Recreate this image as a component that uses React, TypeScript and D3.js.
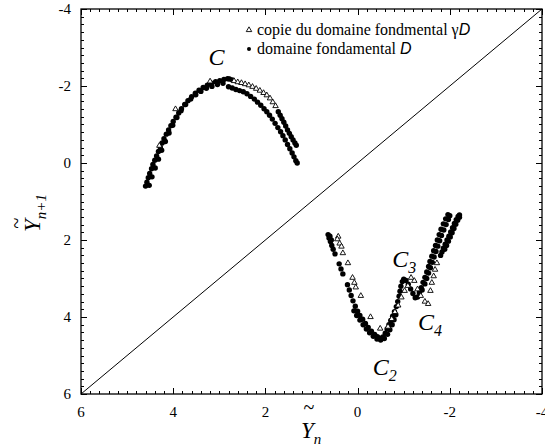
import React, { useEffect, useRef } from 'react';
import * as d3 from 'd3';

type Pt = [number, number];

const X_TICKS = [6, 4, 2, 0, -2, -4];
const Y_TICKS = [-4, -2, 0, 2, 4, 6];

// branch C (upper arc), filled dots = domaine fondamental D
const ARC_DOTS: Pt[] = [
  [4.60, 0.60], [4.57, 0.50], [4.54, 0.38], [4.51, 0.27], [4.47, 0.15], [4.44, 0.04], [4.40, -0.07],
  [4.36, -0.18], [4.32, -0.30], [4.28, -0.41], [4.24, -0.52], [4.20, -0.63], [4.15, -0.75], [4.10, -0.86],
  [4.05, -0.97], [4.00, -1.08], [3.94, -1.19], [3.88, -1.30], [3.82, -1.41], [3.75, -1.52], [3.68, -1.62],
  [3.60, -1.72], [3.52, -1.81], [3.44, -1.89], [3.35, -1.96], [3.26, -2.02], [3.17, -2.07], [3.08, -2.11],
  [2.99, -2.14], [2.90, -2.17], [2.82, -2.19],
  [4.52, 0.58], [4.46, 0.36], [4.39, 0.13], [4.32, -0.10], [4.25, -0.33], [4.17, -0.56], [4.09, -0.78],
  [4.01, -0.98], [3.92, -1.18], [3.83, -1.36], [3.73, -1.52], [3.62, -1.66], [3.51, -1.77], [3.40, -1.86],
  [3.28, -1.94], [3.16, -1.99], [3.04, -2.04], [2.92, -2.07],
  [2.80, -1.98], [2.72, -1.95], [2.64, -1.91], [2.56, -1.88], [2.48, -1.85], [2.40, -1.80], [2.32, -1.73],
  [2.24, -1.66], [2.17, -1.58], [2.10, -1.50], [2.03, -1.41], [1.97, -1.33], [1.91, -1.24], [1.85, -1.14],
  [1.79, -1.03], [1.73, -0.92], [1.67, -0.81], [1.62, -0.71], [1.57, -0.60], [1.52, -0.48], [1.47, -0.37],
  [1.42, -0.26], [1.38, -0.16], [1.34, -0.06], [1.31, 0.00],
  [2.78, -2.18], [2.72, -2.16], [1.72, -1.33], [1.68, -1.24], [1.64, -1.15], [1.60, -1.06], [1.56, -0.96],
  [1.52, -0.86], [1.48, -0.77], [1.44, -0.68], [1.40, -0.60], [1.36, -0.52], [1.33, -0.46],
];

// branch C, open triangles = copie du domaine fondamental gamma D
const ARC_TRIANGLES: Pt[] = [
  [2.68, -2.13], [2.60, -2.10], [2.52, -2.08], [2.44, -2.05], [2.36, -2.02], [2.28, -1.98], [2.20, -1.93],
  [2.12, -1.88], [2.04, -1.82], [1.97, -1.76], [1.90, -1.68], [1.84, -1.58], [1.78, -1.48],
  [3.95, -1.40], [4.30, -0.45], [3.20, -2.12],
];

// branches C2 / C3 / C4 (lower V), dots
const V_DOTS: Pt[] = [
  [0.64, 1.86], [0.62, 1.95], [0.59, 2.04], [0.56, 2.14], [0.53, 2.24], [0.49, 2.36],
  [0.40, 2.62], [0.36, 2.75], [0.32, 2.88], [0.22, 3.16], [0.18, 3.30], [0.14, 3.44],
  [0.10, 3.58], [0.05, 3.72], [0.00, 3.85], [-0.05, 3.96], [-0.11, 4.06], [-0.17, 4.17], [-0.23, 4.27],
  [-0.30, 4.37], [-0.37, 4.45], [-0.43, 4.51], [-0.49, 4.55],
  [0.60, 1.90], [0.57, 2.00], [0.08, 3.84], [0.02, 3.96], [-0.05, 4.08], [-0.12, 4.20], [-0.19, 4.31],
  [-0.26, 4.41], [-0.34, 4.50], [-0.42, 4.57],
  [-0.55, 4.52], [-0.60, 4.42], [-0.64, 4.31], [-0.68, 4.20], [-0.72, 4.09], [-0.76, 3.98], [-0.80, 3.86],
  [-0.84, 3.73], [-0.87, 3.60], [-0.90, 3.46], [-0.92, 3.33], [-0.94, 3.20], [-0.97, 3.08], [-1.00, 3.02],
  [-1.05, 3.05], [-1.10, 3.15], [-1.15, 3.27], [-1.20, 3.39], [-1.25, 3.50], [-1.30, 3.48], [-1.34, 3.37],
  [-1.38, 3.24], [-1.42, 3.10], [-1.46, 2.97], [-1.50, 2.83], [-1.54, 2.69], [-1.57, 2.56], [-1.61, 2.42],
  [-1.65, 2.28], [-1.69, 2.14], [-1.73, 2.00], [-1.77, 1.86], [-1.81, 1.72], [-1.86, 1.58], [-1.91, 1.45],
  [-1.96, 1.34],
  [-0.50, 4.60], [-0.58, 4.56], [-0.65, 4.45], [-0.70, 4.33], [-0.75, 4.20], [-0.79, 4.07], [-0.83, 3.94],
  [-1.40, 3.30], [-1.46, 3.14], [-1.50, 3.00], [-1.54, 2.86], [-1.58, 2.72], [-1.62, 2.58], [-1.66, 2.44],
  [-1.70, 2.30], [-1.74, 2.16], [-1.78, 2.02], [-1.82, 1.88], [-1.87, 1.74], [-1.92, 1.60], [-1.97, 1.47],
  [-2.00, 1.37],
  [-1.80, 2.40], [-1.83, 2.31], [-1.86, 2.21], [-1.90, 2.11], [-1.94, 2.00], [-1.98, 1.90], [-2.02, 1.79],
  [-2.06, 1.68], [-2.10, 1.57], [-2.14, 1.47], [-2.18, 1.39], [-2.21, 1.35], [-1.89, 2.24], [-1.93, 2.14],
  [-1.97, 2.03], [-2.01, 1.92], [-2.05, 1.81], [-2.09, 1.70], [-2.13, 1.59], [-2.17, 1.49], [-2.21, 1.41],
];

const V_TRIANGLES: Pt[] = [
  [0.42, 1.91], [0.44, 1.98], [0.39, 2.09], [0.35, 2.17], [0.32, 2.34], [0.21, 2.60], [0.11, 2.98],
  [0.07, 3.11], [0.04, 3.23], [-0.07, 3.45], [-0.28, 4.00], [-0.49, 4.30],
  [-0.66, 4.25], [-0.74, 4.05], [-0.81, 3.87], [-0.88, 3.70], [-0.95, 3.49], [-1.02, 3.32], [-1.09, 3.19],
  [-1.16, 2.98], [-1.23, 3.06], [-1.30, 3.28], [-1.37, 3.45], [-1.46, 3.60], [-1.53, 3.66], [-1.58, 3.32],
  [-1.61, 3.11], [-1.65, 2.94], [-1.68, 2.77], [-1.72, 2.60],
];

const CURVE_LABELS = [
  { name: 'C', sub: '', at: [3.06, -2.55] },
  { name: 'C', sub: '2', at: [-0.33, 5.51] },
  { name: 'C', sub: '3', at: [-0.75, 2.70] },
  { name: 'C', sub: '4', at: [-1.31, 4.34] },
];

const LEGEND = [
  { kind: 'triangle', text: 'copie du domaine fondmental ', greek: 'γ', sym: 'D' },
  { kind: 'dot', text: 'domaine fondamental ', greek: '', sym: 'D' },
];

const SERIF = '"Liberation Serif", "Times New Roman", serif';
const SANS = '"Liberation Sans", Arial, sans-serif';

export default function App() {
  const svgRef = useRef<SVGSVGElement>(null);
  const W = 545;
  const H = 445;
  const FRAME = { left: 81, right: 542, top: 9, bottom: 394 };

  useEffect(() => {
    const svg = d3.select(svgRef.current);
    svg.selectAll('*').remove();

    const x = d3.scaleLinear().domain([6, -4]).range([FRAME.left, FRAME.right]);
    const y = d3.scaleLinear().domain([-4, 6]).range([FRAME.top, FRAME.bottom]);

    svg.append('rect').attr('width', W).attr('height', H).attr('fill', '#fff');

    // minor + major ticks, inward on all four sides
    const minor = d3.range(-4, 6.0001, 0.2).map(v => Math.round(v * 10) / 10);
    const isMajor = (v: number) => Math.abs(v / 2 - Math.round(v / 2)) < 1e-6;
    const ticks = svg.append('g').attr('stroke', '#000').attr('stroke-width', 1);
    minor.forEach(v => {
      const len = isMajor(v) ? 6 : 3;
      const xv = Math.round(x(v)) + 0.5;
      const yv = Math.round(y(v)) + 0.5;
      ticks.append('line').attr('x1', xv).attr('x2', xv).attr('y1', FRAME.bottom).attr('y2', FRAME.bottom - len);
      ticks.append('line').attr('x1', xv).attr('x2', xv).attr('y1', FRAME.top).attr('y2', FRAME.top + len);
      ticks.append('line').attr('y1', yv).attr('y2', yv).attr('x1', FRAME.left).attr('x2', FRAME.left + len);
      ticks.append('line').attr('y1', yv).attr('y2', yv).attr('x1', FRAME.right).attr('x2', FRAME.right - len);
    });

    svg.append('rect')
      .attr('x', FRAME.left).attr('y', FRAME.top)
      .attr('width', FRAME.right - FRAME.left).attr('height', FRAME.bottom - FRAME.top)
      .attr('fill', 'none').attr('stroke', '#000').attr('stroke-width', 1.3);

    // diagonal Y(n+1) = Y(n)
    svg.append('line')
      .attr('x1', x(6)).attr('y1', y(6)).attr('x2', x(-4)).attr('y2', y(-4))
      .attr('stroke', '#000').attr('stroke-width', 1);

    X_TICKS.forEach(v => {
      svg.append('text')
        .attr('x', x(v)).attr('y', 417)
        .attr('text-anchor', 'middle')
        .style('font-family', SERIF).style('font-size', '15px')
        .text(v);
    });
    Y_TICKS.forEach(v => {
      svg.append('text')
        .attr('x', FRAME.left - 10).attr('y', y(v))
        .attr('text-anchor', 'end').attr('dominant-baseline', 'central')
        .style('font-family', SERIF).style('font-size', '15px')
        .text(v);
    });

    // data markers
    const g = svg.append('g');
    g.selectAll('circle')
      .data([...ARC_DOTS, ...V_DOTS])
      .join('circle')
      .attr('cx', d => x(d[0])).attr('cy', d => y(d[1]))
      .attr('r', 2.7).attr('fill', '#000');

    const tri = d3.symbol().type(d3.symbolTriangle).size(13);
    g.selectAll('path.tri')
      .data([...ARC_TRIANGLES, ...V_TRIANGLES])
      .join('path')
      .attr('class', 'tri')
      .attr('d', tri as any)
      .attr('transform', d => `translate(${x(d[0])},${y(d[1])})`)
      .attr('fill', '#fff').attr('stroke', '#000').attr('stroke-width', 0.9);

    // curve labels C, C2, C3, C4
    CURVE_LABELS.forEach(l => {
      const t = svg.append('text')
        .attr('x', x(l.at[0])).attr('y', y(l.at[1]))
        .attr('text-anchor', l.sub ? 'start' : 'middle')
        .style('font-family', SERIF).style('font-style', 'italic').style('font-size', '24px');
      t.append('tspan').text(l.name);
      if (l.sub) t.append('tspan').attr('dy', 6).style('font-size', '16px').text(l.sub);
    });

    // legend
    LEGEND.forEach((d, i) => {
      const ly = 35 + i * 19;
      if (d.kind === 'triangle') {
        svg.append('path').attr('d', tri as any)
          .attr('transform', `translate(249,${ly - 5})`)
          .attr('fill', '#fff').attr('stroke', '#000').attr('stroke-width', 0.9);
      } else {
        svg.append('circle').attr('cx', 249).attr('cy', ly - 5).attr('r', 2).attr('fill', '#000');
      }
      const t = svg.append('text').attr('x', 257).attr('y', ly)
        .style('font-family', SERIF).style('font-size', '16px');
      t.append('tspan').text(d.text);
      if (d.greek) t.append('tspan').text(d.greek);
      t.append('tspan').style('font-family', SANS).style('font-style', 'italic').text(d.sym);
    });

    // x title: tilde Y, subscript n
    const xt = svg.append('text').attr('x', 301).attr('y', 438)
      .style('font-family', SERIF).style('font-style', 'italic').style('font-size', '23px');
    xt.append('tspan').text('Y');
    xt.append('tspan').attr('dy', 6).style('font-size', '15px').text('n');
    svg.append('text').attr('x', 309).attr('y', 414).attr('text-anchor', 'middle')
      .style('font-family', SERIF).style('font-size', '20px').text('~');

    // y title, rotated
    const yg = svg.append('g').attr('transform', 'translate(40,232) rotate(-90)');
    const yt = yg.append('text').attr('x', 0).attr('y', 0)
      .style('font-family', SERIF).style('font-style', 'italic').style('font-size', '23px');
    yt.append('tspan').text('Y');
    yt.append('tspan').attr('dy', 6).style('font-size', '15px').text('n+1');
    yg.append('text').attr('x', 9).attr('y', -17).attr('text-anchor', 'middle')
      .style('font-family', SERIF).style('font-size', '20px').text('~');
  }, []);

  return (
    <svg ref={svgRef} width={W} height={H} style={{ position: 'absolute', left: 0, top: 0 }} />
  );
}
